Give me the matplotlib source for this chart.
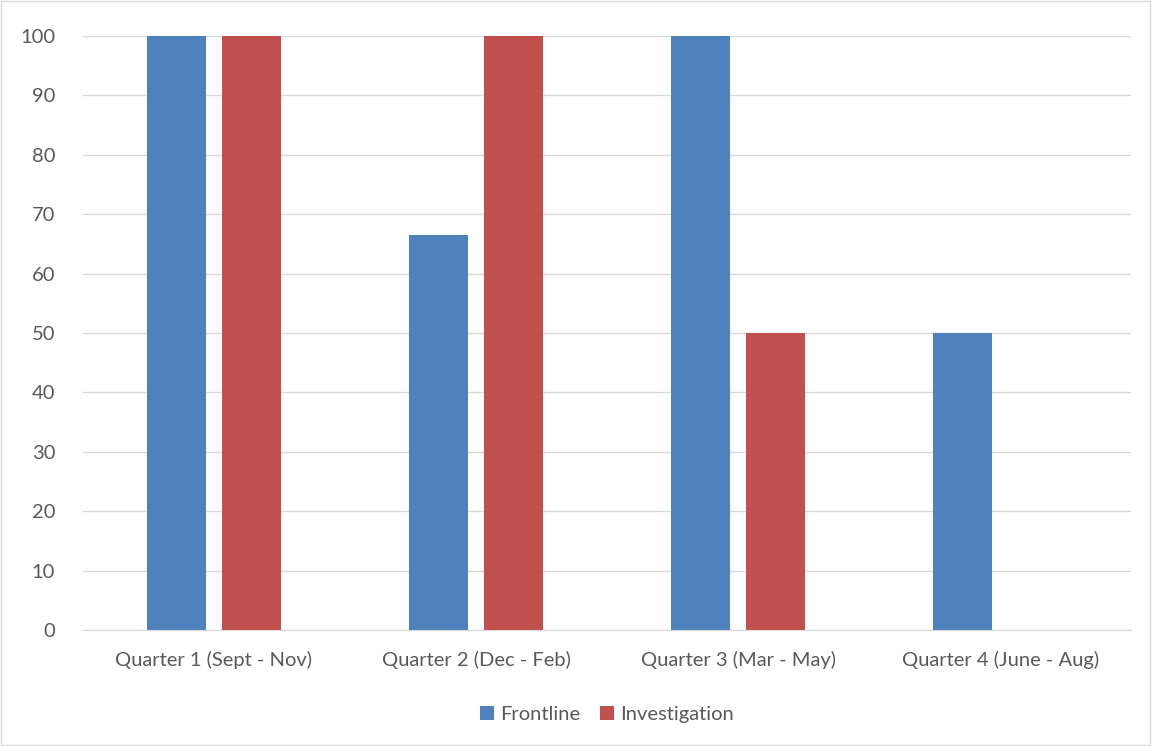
import numpy as np
import matplotlib
matplotlib.use("Agg")
import matplotlib.pyplot as plt
from matplotlib.patches import Rectangle

categories = ["Quarter 1 (Sept - Nov)", "Quarter 2 (Dec - Feb)",
              "Quarter 3 (Mar - May)", "Quarter 4 (June - Aug)"]
frontline = [100, 66.5, 100, 50]
investigation = [100, 100, 50, 0]

plt.rcParams["font.family"] = ["Lato", "DejaVu Sans"]

fig = plt.figure(figsize=(11.52, 7.46), dpi=100)
ax = fig.add_axes([0.072, 0.1555, 0.910, 0.7962])
fig.patches.append(Rectangle((0.001, 0.001), 0.997, 0.997, transform=fig.transFigure,
                             fill=False, edgecolor="#d9d9d9", linewidth=1))

x = np.arange(len(categories))
w = 0.225
off = 0.1425
ax.bar(x - off, frontline, w, color="#4f81bd", label="Frontline")
ax.bar(x + off, investigation, w, color="#c0504d", label="Investigation")

ax.set_xlim(-0.5, 3.5)
ax.set_ylim(0, 100)
ax.set_yticks(range(0, 101, 10))
ax.set_xticks(x)
ax.set_xticklabels(categories)
ax.yaxis.grid(True, color="#d9d9d9", linewidth=1)
ax.set_axisbelow(True)
for s in ["top", "right", "left"]:
    ax.spines[s].set_visible(False)
ax.spines["bottom"].set_color("#d9d9d9")
ax.tick_params(axis="y", length=0, labelsize=14.5, labelcolor="#595959", pad=20)
ax.tick_params(axis="x", length=0, labelsize=14.5, labelcolor="#595959", pad=15)

ax.legend(loc="center", bbox_to_anchor=(0.5, -0.143), ncol=2, frameon=False,
          fontsize=14.5, labelcolor="#595959", handlelength=0.7, handleheight=0.7,
          columnspacing=1.0, handletextpad=0.3)

fig.savefig("out.png", dpi=100)
